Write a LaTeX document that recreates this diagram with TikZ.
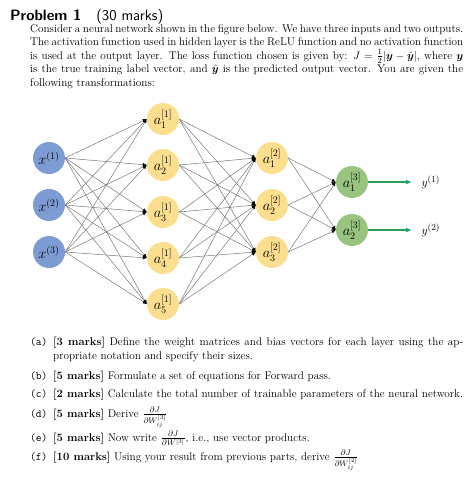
\documentclass[tikz,border=0pt]{standalone}
\usepackage{amsmath, amssymb, bm}
\usepackage{tikz}
\usetikzlibrary{arrows.meta}
\definecolor{inblue}{RGB}{126, 156, 212}
\definecolor{hidyel}{RGB}{251, 222, 142}
\definecolor{outgrn}{RGB}{152, 196, 128}
\definecolor{arrgrn}{RGB}{36, 160, 90}
\definecolor{edgegr}{RGB}{120, 120, 120}

\begin{document}
\begin{tikzpicture}[x=1pt, y=-1pt, font=\fontsize{11.2}{13.6}\selectfont,
    neuron/.style={circle, minimum size=32pt, inner sep=0pt, font=\fontsize{14}{16}\selectfont},
    wire/.style={edgegr, line width=0.5pt, -{Latex[black, length=4pt, width=3.5pt]}},
    para/.style={anchor=north west, inner sep=0pt, align=justify}]
  \useasboundingbox (0,0) rectangle (474,483);
  % heading and text
  \node[anchor=base west, inner sep=0pt, font=\fontsize{15}{17}\selectfont\sffamily] (title) at (10,20)
        {\textbf{Problem 1}\quad(30 marks)};
  \node[para, text width=433pt] (intro) at (30,24)
        {Consider a neural network shown in the figure below. We have three inputs and two outputs.\linebreak
        The activation function used in hidden layer is the ReLU function and no activation function\linebreak
        is used at the output layer. The loss function chosen is given by: $J=\frac{1}{2}|\bm{y}-\hat{\bm{y}}|$, where $\bm{y}$\linebreak
        is the true training label vector, and $\hat{\bm{y}}$ is the predicted output vector. You are given the\linebreak
        following transformations:};
  % layers
  \foreach \i/\yy in {1/158, 2/205, 3/252}
    \node[neuron, fill=inblue] (x\i) at (49,\yy) {$x^{(\i)}$};
  \foreach \i/\yy in {1/119, 2/165, 3/212, 4/258, 5/304}
    \node[neuron, fill=hidyel] (h\i) at (163,\yy) {$a^{[1]}_{\i}$};
  \foreach \i/\yy in {1/158, 2/205, 3/252}
    \node[neuron, fill=hidyel] (g\i) at (272,\yy) {$a^{[2]}_{\i}$};
  \foreach \i/\yy in {1/182, 2/230}
    \node[neuron, fill=outgrn] (o\i) at (352,\yy) {$a^{[3]}_{\i}$};
  % connections
  \foreach \s in {1,2,3}
    \foreach \t in {1,...,5}
      \draw[wire] (x\s.east) -- (h\t.west);
  \foreach \s in {1,...,5}
    \foreach \t in {1,2,3}
      \draw[wire] (h\s.east) -- (g\t.west);
  \foreach \s in {1,2,3}
    \foreach \t in {1,2}
      \draw[wire] (g\s.east) -- (o\t.west);
  % outputs
  \foreach \i/\yy in {1/182, 2/230} {
    \coordinate (e\i) at (412,\yy);
    \draw[arrgrn, line width=1.3pt, -{Latex[length=6pt, width=5pt]}] (o\i.east) -- (e\i);
    \node[anchor=west, font=\fontsize{13}{15}\selectfont] (y\i) at (418,\yy) {$y^{(\i)}$};
  }
  % questions
  \foreach \k/\yy/\txt in {
      a/337/{\textbf{[3 marks]} Define the weight matrices and bias vectors for each layer using the ap-\linebreak propriate notation and specify their sizes.},
      b/371/{\textbf{[5 marks]} Formulate a set of equations for Forward pass.},
      c/389/{\textbf{[2 marks]} Calculate the total number of trainable parameters of the neural network.},
      d/407/{\textbf{[5 marks]} Derive $\frac{\partial J}{\partial W^{[3]}_{ij}}$},
      e/431/{\textbf{[5 marks]} Now write $\frac{\partial J}{\partial W^{[3]}}$, i.e., use vector products.},
      f/450/{\textbf{[10 marks]} Using your result from previous parts, derive $\frac{\partial J}{\partial W^{[2]}_{ij}}$}} {
    \node[para, text width=410pt] (q\k) at (53,\yy) {\txt};
    \node[anchor=base west, inner sep=0pt, font=\fontsize{11.2}{13.6}\selectfont\ttfamily] (l\k) at ([xshift=-23pt]q\k.base west) {(\k)};
  }
\end{tikzpicture}
\end{document}
